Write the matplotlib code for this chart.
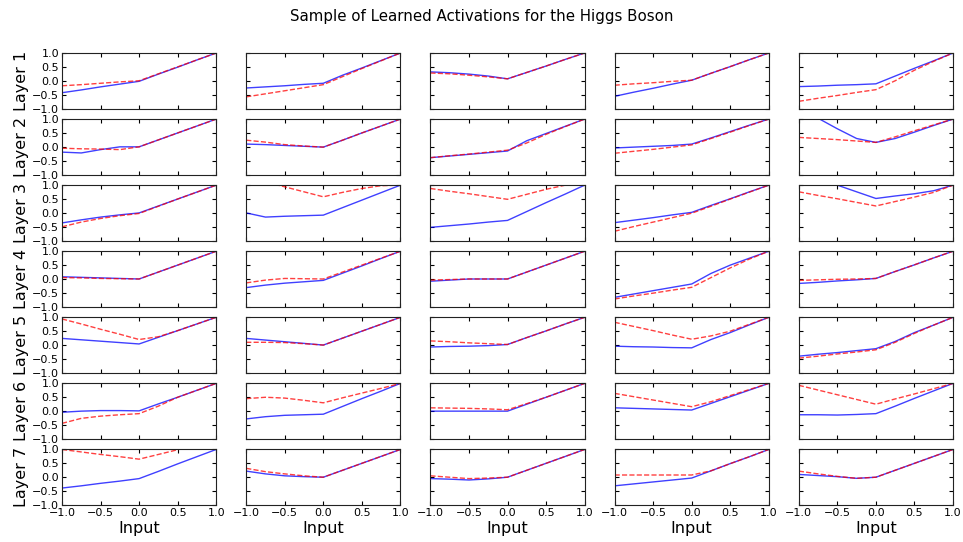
import numpy as np
import matplotlib
matplotlib.use("Agg")
import matplotlib.pyplot as plt

# common input grid
x_in = [-1.0, -0.75, -0.5, -0.25, 0.0, 0.25, 0.5, 0.75, 1.0]

layers = ["Layer 1", "Layer 2", "Layer 3", "Layer 4", "Layer 5", "Layer 6", "Layer 7"]

# blue (solid) activations, one row per layer, five panels each
blue_l1 = [[-0.43, -0.33, -0.22, -0.12, -0.02, 0.24, 0.49, 0.75, 1.0],
           [-0.26, -0.22, -0.18, -0.13, -0.09, 0.20, 0.46, 0.73, 1.0],
           [0.32, 0.29, 0.24, 0.17, 0.07, 0.30, 0.53, 0.77, 1.0],
           [-0.56, -0.41, -0.27, -0.12, 0.02, 0.27, 0.51, 0.76, 1.0],
           [-0.21, -0.19, -0.16, -0.14, -0.11, 0.17, 0.45, 0.72, 1.0]]
blue_l2 = [[-0.19, -0.22, -0.10, 0.0, 0.0, 0.25, 0.5, 0.75, 1.0],
           [0.10, 0.08, 0.05, 0.02, -0.01, 0.24, 0.5, 0.75, 1.0],
           [-0.39, -0.33, -0.27, -0.21, -0.15, 0.22, 0.48, 0.74, 1.0],
           [-0.04, -0.01, 0.02, 0.05, 0.10, 0.32, 0.55, 0.78, 1.0],
           [1.41, 1.03, 0.65, 0.30, 0.16, 0.30, 0.53, 0.77, 1.0]]
blue_l3 = [[-0.36, -0.25, -0.15, -0.07, 0.0, 0.25, 0.5, 0.75, 1.0],
           [0.0, -0.15, -0.12, -0.10, -0.08, 0.19, 0.46, 0.73, 1.0],
           [-0.52, -0.46, -0.40, -0.33, -0.27, 0.05, 0.37, 0.68, 1.0],
           [-0.35, -0.26, -0.17, -0.07, 0.02, 0.27, 0.51, 0.76, 1.0],
           [1.48, 1.24, 1.0, 0.76, 0.52, 0.61, 0.69, 0.80, 1.0]]
blue_l4 = [[0.08, 0.06, 0.04, 0.02, 0.0, 0.25, 0.5, 0.75, 1.0],
           [-0.31, -0.22, -0.15, -0.10, -0.05, 0.21, 0.47, 0.74, 1.0],
           [-0.08, -0.04, 0.0, 0.0, 0.0, 0.25, 0.5, 0.75, 1.0],
           [-0.66, -0.54, -0.42, -0.30, -0.18, 0.20, 0.50, 0.75, 1.0],
           [-0.16, -0.12, -0.07, -0.03, 0.02, 0.27, 0.51, 0.76, 1.0]]
blue_l5 = [[0.24, 0.19, 0.14, 0.09, 0.04, 0.28, 0.52, 0.76, 1.0],
           [0.24, 0.18, 0.12, 0.06, 0.0, 0.25, 0.5, 0.75, 1.0],
           [-0.07, -0.05, -0.04, -0.02, 0.02, 0.27, 0.51, 0.76, 1.0],
           [-0.04, -0.06, -0.07, -0.09, -0.10, 0.20, 0.45, 0.73, 1.0],
           [-0.40, -0.33, -0.27, -0.20, -0.13, 0.13, 0.45, 0.72, 1.0]]
blue_l6 = [[-0.04, 0.0, 0.02, 0.02, 0.01, 0.26, 0.5, 0.75, 1.0],
           [-0.28, -0.20, -0.15, -0.13, -0.11, 0.17, 0.45, 0.72, 1.0],
           [0.0, 0.0, 0.0, 0.0, 0.0, 0.25, 0.5, 0.75, 1.0],
           [0.12, 0.10, 0.08, 0.06, 0.04, 0.28, 0.52, 0.76, 1.0],
           [-0.13, -0.13, -0.14, -0.12, -0.09, 0.18, 0.46, 0.73, 1.0]]
blue_l7 = [[-0.39, -0.31, -0.22, -0.14, -0.05, 0.21, 0.48, 0.74, 1.0],
           [0.22, 0.12, 0.05, 0.02, 0.0, 0.25, 0.5, 0.75, 1.0],
           [-0.05, -0.07, -0.10, -0.06, 0.0, 0.25, 0.5, 0.75, 1.0],
           [-0.31, -0.24, -0.17, -0.10, -0.03, 0.23, 0.49, 0.74, 1.0],
           [0.10, 0.06, 0.02, -0.04, 0.0, 0.25, 0.5, 0.75, 1.0]]

# red (dashed) activations
red_l1 = [[-0.18, -0.14, -0.09, -0.04, 0.0, 0.25, 0.5, 0.75, 1.0],
          [-0.58, -0.47, -0.36, -0.25, -0.14, 0.15, 0.44, 0.72, 1.0],
          [0.28, 0.25, 0.20, 0.14, 0.07, 0.30, 0.53, 0.77, 1.0],
          [-0.16, -0.11, -0.07, -0.02, 0.02, 0.27, 0.51, 0.76, 1.0],
          [-0.74, -0.63, -0.53, -0.42, -0.32, 0.0, 0.38, 0.70, 1.0]]
red_l2 = [[-0.05, -0.07, -0.08, -0.10, 0.0, 0.25, 0.5, 0.75, 1.0],
          [0.24, 0.17, 0.08, 0.03, -0.01, 0.24, 0.5, 0.75, 1.0],
          [-0.39, -0.32, -0.26, -0.19, -0.12, 0.14, 0.45, 0.73, 1.0],
          [-0.23, -0.16, -0.09, -0.01, 0.07, 0.30, 0.53, 0.77, 1.0],
          [0.34, 0.30, 0.26, 0.21, 0.16, 0.36, 0.58, 0.79, 1.0]]
red_l3 = [[-0.50, -0.33, -0.20, -0.10, -0.02, 0.24, 0.5, 0.75, 1.0],
          [1.29, 1.11, 0.94, 0.76, 0.58, 0.74, 0.88, 0.98, 1.0],
          [0.88, 0.78, 0.69, 0.59, 0.49, 0.67, 0.85, 1.0, 1.1],
          [-0.66, -0.49, -0.33, -0.17, -0.01, 0.24, 0.5, 0.75, 1.0],
          [0.76, 0.63, 0.51, 0.38, 0.25, 0.41, 0.57, 0.74, 1.0]]
red_l4 = [[0.05, 0.04, 0.02, 0.01, 0.0, 0.25, 0.5, 0.75, 1.0],
          [-0.14, -0.04, 0.02, 0.01, 0.0, 0.25, 0.5, 0.75, 1.0],
          [-0.04, -0.02, 0.0, 0.0, 0.0, 0.25, 0.5, 0.75, 1.0],
          [-0.72, -0.61, -0.51, -0.40, -0.30, 0.05, 0.40, 0.72, 1.0],
          [-0.05, -0.03, -0.01, 0.0, 0.02, 0.27, 0.51, 0.76, 1.0]]
red_l5 = [[0.94, 0.76, 0.57, 0.39, 0.20, 0.30, 0.52, 0.76, 1.0],
          [0.10, 0.10, 0.09, 0.05, 0.0, 0.25, 0.5, 0.75, 1.0],
          [0.15, 0.12, 0.08, 0.05, 0.02, 0.27, 0.51, 0.76, 1.0],
          [0.82, 0.67, 0.52, 0.36, 0.21, 0.33, 0.50, 0.75, 1.0],
          [-0.47, -0.40, -0.32, -0.25, -0.17, 0.10, 0.42, 0.72, 1.0]]
red_l6 = [[-0.44, -0.26, -0.18, -0.13, -0.09, 0.18, 0.5, 0.75, 1.0],
          [0.45, 0.50, 0.47, 0.39, 0.30, 0.48, 0.65, 0.82, 1.0],
          [0.12, 0.11, 0.10, 0.08, 0.05, 0.27, 0.5, 0.75, 1.0],
          [0.64, 0.52, 0.40, 0.28, 0.16, 0.34, 0.56, 0.78, 1.0],
          [0.93, 0.76, 0.59, 0.42, 0.25, 0.44, 0.62, 0.81, 1.0]]
red_l7 = [[1.0, 0.91, 0.82, 0.74, 0.65, 0.82, 0.99, 1.17, 1.35],
          [0.32, 0.20, 0.12, 0.05, 0.0, 0.25, 0.5, 0.75, 1.0],
          [0.05, 0.0, -0.05, -0.03, 0.0, 0.25, 0.5, 0.75, 1.0],
          [0.08, 0.08, 0.08, 0.08, 0.08, 0.23, 0.49, 0.74, 1.0],
          [0.22, 0.12, 0.03, -0.04, 0.0, 0.25, 0.5, 0.75, 1.0]]

blue = [blue_l1, blue_l2, blue_l3, blue_l4, blue_l5, blue_l6, blue_l7]
red = [red_l1, red_l2, red_l3, red_l4, red_l5, red_l6, red_l7]

ticks = [-1.0, -0.5, 0.0, 0.5, 1.0]

fig, axes = plt.subplots(7, 5, figsize=(9.63, 5.42), dpi=100)
fig.subplots_adjust(left=0.0644, right=0.9896, top=0.9022, bottom=0.0683,
                    wspace=0.195, hspace=0.19)

for i in range(7):
    for j in range(5):
        ax = axes[i, j]
        ax.plot(x_in, blue[i][j], 'b-', lw=1.0, alpha=0.75)
        ax.plot(x_in, red[i][j], 'r--', lw=1.0, alpha=0.75)
        ax.set_xlim(-1, 1)
        ax.set_ylim(-1, 1)
        ax.set_xticks(ticks)
        ax.set_yticks(ticks)
        ax.tick_params(direction='in', top=True, right=True, length=3,
                       labelsize=8, pad=2)
        for sp in ax.spines.values():
            sp.set_color('#222222')
        if j != 0:
            ax.set_yticklabels([])
        else:
            ax.set_ylabel(layers[i], fontsize=11.5, labelpad=2)
        if i != 6:
            ax.set_xticklabels([])
        else:
            ax.set_xlabel("Input", fontsize=11.5, labelpad=2)

fig.suptitle("Sample of Learned Activations for the Higgs Boson", fontsize=10.8, y=0.983)

fig.savefig("out.png", dpi=100)
